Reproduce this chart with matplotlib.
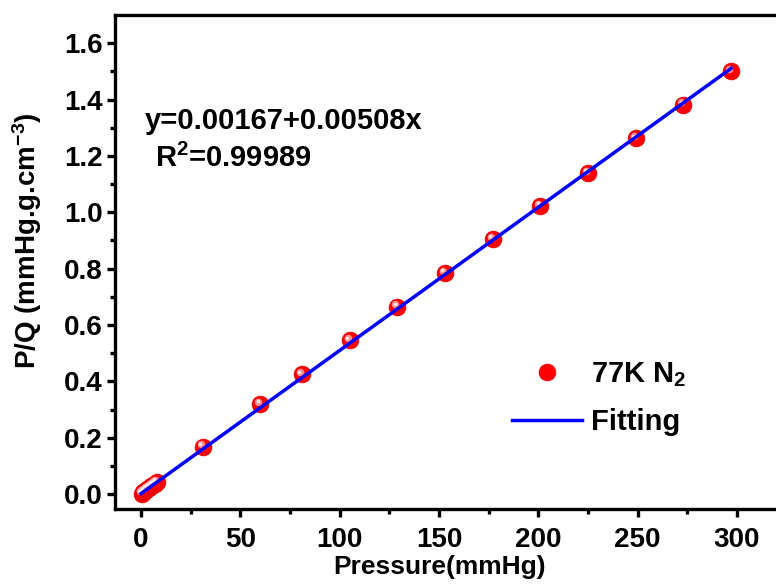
import matplotlib
matplotlib.use("Agg")
import matplotlib.pyplot as plt
import matplotlib.transforms as mtransforms
import numpy as np

pressure = [0.3, 1.0, 2.0, 3.0, 4.0, 5.0, 6.0, 7.0, 8.0,
            31, 60, 81, 105, 129, 153, 177, 201, 225, 249, 273, 297]
pq = [0.002, 0.006, 0.011, 0.017, 0.022, 0.027, 0.032, 0.037, 0.042,
      0.168, 0.320, 0.425, 0.545, 0.665, 0.785, 0.905, 1.023, 1.140, 1.262, 1.382, 1.500]
fit_intercept = 0.00167
fit_slope = 0.00508
fit_range = [0, 297]
xticks = [0, 50, 100, 150, 200, 250, 300]
yticks = [0.0, 0.2, 0.4, 0.6, 0.8, 1.0, 1.2, 1.4, 1.6]

plt.rcParams['font.family'] = ['Liberation Sans', 'DejaVu Sans']
plt.rcParams['font.weight'] = 'bold'
plt.rcParams['mathtext.default'] = 'regular'

fig = plt.figure(figsize=(7.76, 5.88), dpi=100)
W, H = 776, 588
left, right, top, bottom = 115, 801, 15, 509
ax = fig.add_axes([left / W, 1 - bottom / H, (right - left) / W, (bottom - top) / H])

xf = np.array(fit_range, dtype=float)
yf = fit_intercept + fit_slope * xf
ax.plot(xf, yf, color='#0000ff', lw=2.5, zorder=3, label='Fitting')

ax.plot(pressure, pq, 'o', color='#ff0000', ms=12, mec='#e60000', mew=0.6, zorder=2, label='77K N$_2$')
hl = mtransforms.offset_copy(ax.transData, fig=fig, x=-1.5, y=1.6, units='points')
ax.plot(pressure, pq, 'o', color='#ff8c8c', ms=5.5, mew=0, transform=hl, zorder=2.5)
hl2 = mtransforms.offset_copy(ax.transData, fig=fig, x=-1.9, y=2.0, units='points')
ax.plot(pressure, pq, 'o', color='#ffe6e6', ms=2.6, mew=0, transform=hl2, zorder=2.6)

ax.set_xlim(-13.1, 332.2)
ax.set_ylim(-0.053, 1.7)
ax.set_xticks(xticks)
ax.set_xticklabels([str(v) for v in xticks])
ax.set_yticks(yticks)
ax.set_yticklabels([f"{v:.1f}" for v in yticks])
ax.set_xticks([25, 75, 125, 175, 225, 275, 325], minor=True)
ax.set_yticks([0.1, 0.3, 0.5, 0.7, 0.9, 1.1, 1.3, 1.5], minor=True)

for s in ax.spines.values():
    s.set_linewidth(2.4)
ax.tick_params(which='major', direction='out', length=6, width=2.4, labelsize=20)
ax.tick_params(axis='x', which='major', pad=7)
ax.tick_params(axis='y', which='major', pad=3)
ax.tick_params(which='minor', direction='out', length=3.5, width=2.4)
for lab in ax.get_xticklabels() + ax.get_yticklabels():
    lab.set_fontweight('bold')

ax.set_xlabel('Pressure(mmHg)', fontsize=19, fontweight='bold')
ax.set_ylabel('P/Q (mmHg.g.cm$^{-3}$)', fontsize=20, fontweight='bold')
ax.xaxis.label.set_va('baseline')
ax.xaxis.set_label_coords((440 - left) / (right - left), -(574 - bottom) / (bottom - top))
ax.yaxis.set_label_coords(-(115 - 44) / (right - left), (bottom - 241) / (bottom - top))

fig.text(145 / W, 1 - 129 / H, 'y=0.00167+0.00508x', fontsize=21, fontweight='bold', va='baseline', ha='left')
fig.text(155 / W, 1 - 167 / H, 'R$^2$=0.99989', fontsize=21, fontweight='bold', va='baseline', ha='left')

h, l = ax.get_legend_handles_labels()
leg = fig.legend([h[1], h[0]], [l[1], l[0]], loc='upper left',
                 bbox_to_anchor=(512 / W, 1 - 360 / H), frameon=False,
                 handlelength=2.4, labelspacing=0.65, handletextpad=0.3,
                 borderpad=0, borderaxespad=0,
                 prop={'weight': 'bold', 'size': 21})

fig.savefig('out.png', dpi=100)
